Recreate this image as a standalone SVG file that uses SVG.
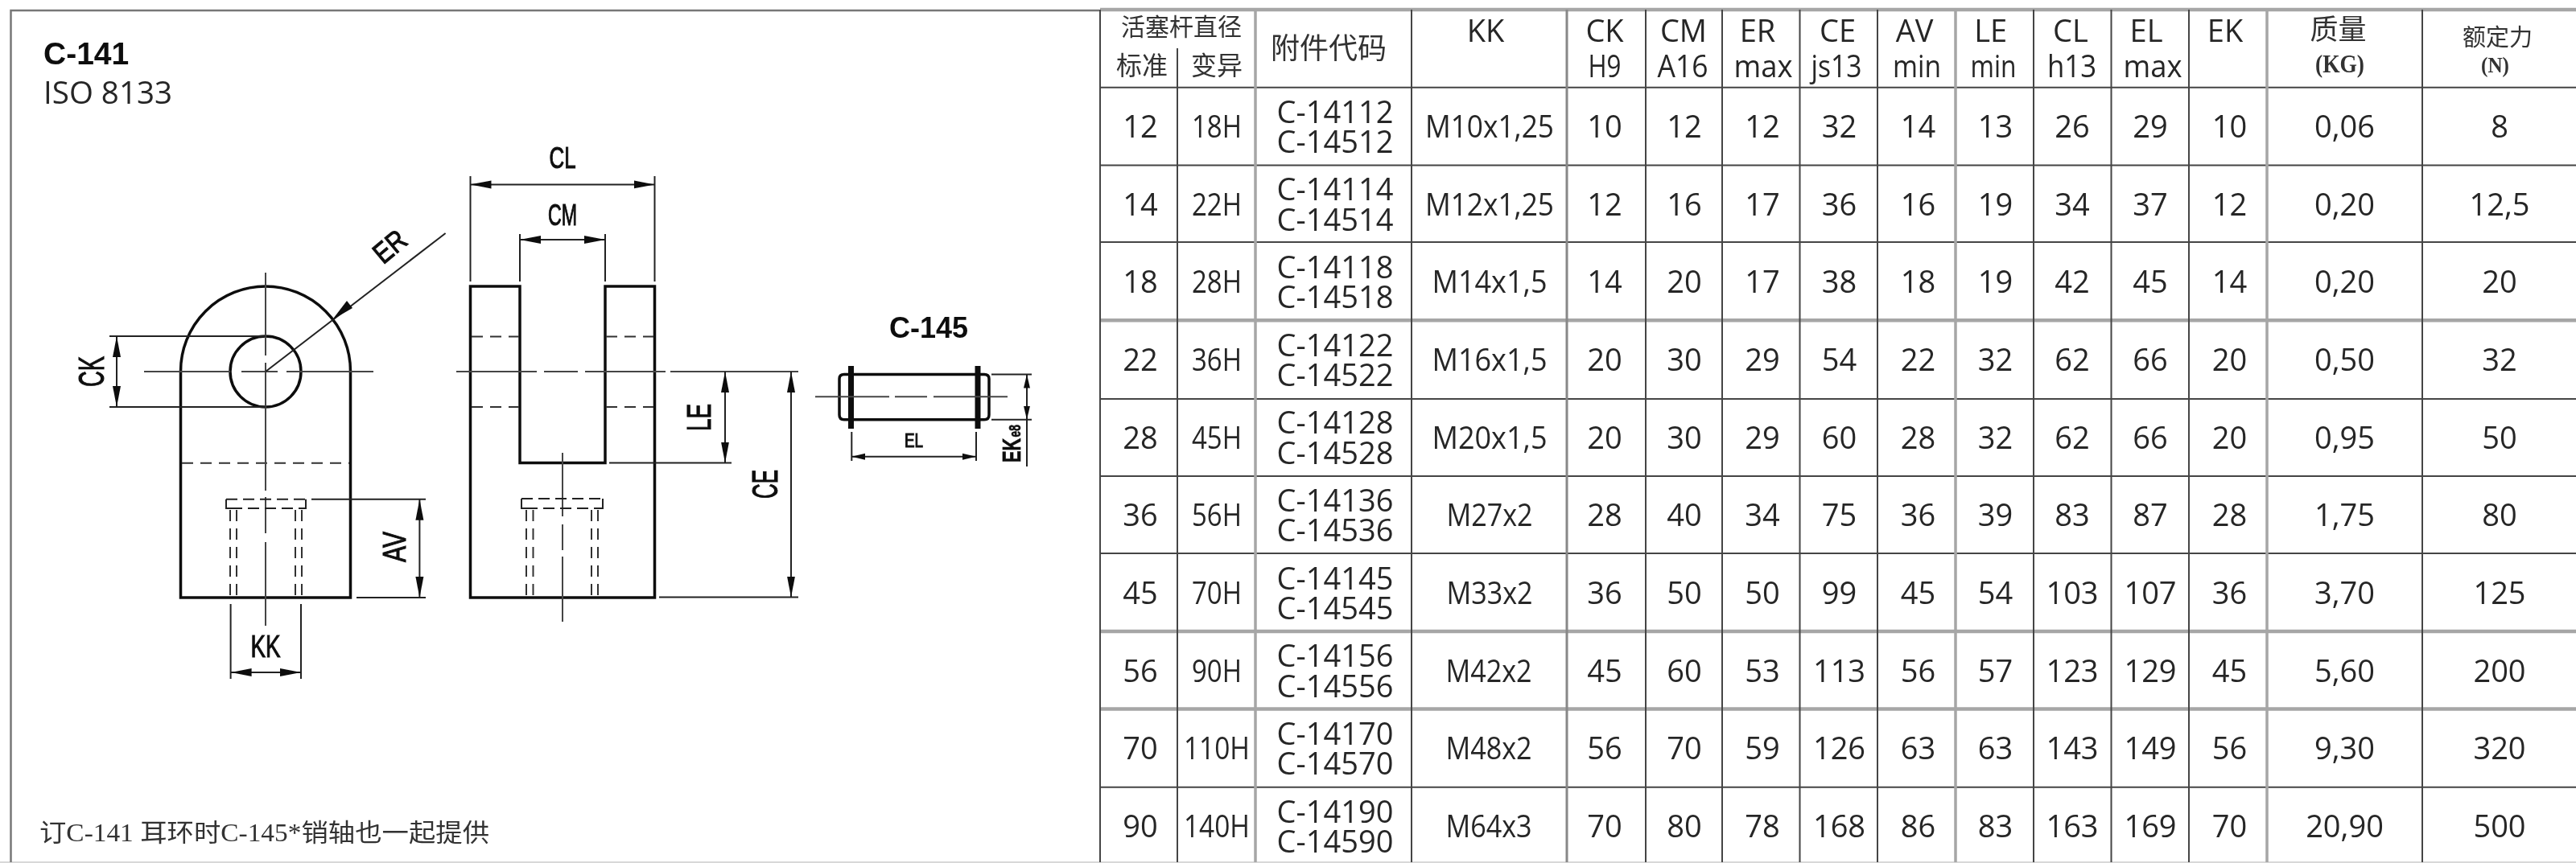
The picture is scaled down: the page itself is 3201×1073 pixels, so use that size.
<svg xmlns="http://www.w3.org/2000/svg" width="3201" height="1073" viewBox="0 0 3201 1073">
<style>
.t{font-family:"Open Sans","Liberation Sans",sans-serif;font-size:38px;fill:#262626;text-anchor:middle}
.cn{font-family:"Noto Sans CJK SC",sans-serif;fill:#333;text-anchor:middle}
.b{font-family:"Liberation Sans",sans-serif;font-weight:700;fill:#111}
.d{font-family:"Liberation Sans",sans-serif;fill:#111;text-anchor:middle;stroke:#111;stroke-width:1.1}
.tl{fill:none;stroke:#444;stroke-width:2}
.tg{fill:none;stroke:#a6a6a6;stroke-width:4.5}
.o{fill:none;stroke:#111;stroke-width:3.5}
.f{fill:none;stroke:#222;stroke-width:2}
.h{fill:none;stroke:#333;stroke-width:2;stroke-dasharray:14 9}
.c{fill:none;stroke:#444;stroke-width:2}
.dim{marker-start:url(#a);marker-end:url(#a)}
.dims{marker-start:url(#s);marker-end:url(#s)}
</style>
<defs>
<marker id="a" markerUnits="userSpaceOnUse" markerWidth="26" markerHeight="12" refX="26" refY="6" orient="auto-start-reverse"><path d="M0 1L26 6L0 11Z" fill="#111"/></marker>
<marker id="s" markerUnits="userSpaceOnUse" markerWidth="17" markerHeight="10" refX="17" refY="5" orient="auto-start-reverse"><path d="M0 1L17 5L0 9Z" fill="#111"/></marker>
<filter id="soft" filterUnits="userSpaceOnUse" x="0" y="0" width="3201" height="1073"><feGaussianBlur stdDeviation="0.7"/></filter>
</defs>
<rect width="3201" height="1073" fill="#fff"/>
<g filter="url(#soft)">
<g id="frame">
<path d="M0 1072H3201" fill="none" stroke="#d8d8d8" stroke-width="2"/>
<path d="M13.5 1072V13H1366" fill="none" stroke="#777" stroke-width="2.5"/>
<text class="b" x="54" y="80" font-size="39">C-141</text>
<text class="t" x="134" y="129" textLength="160" lengthAdjust="spacingAndGlyphs" style="font-size:39px">ISO 8133</text>
<text x="49" y="1046" font-family="'Liberation Serif','Noto Sans CJK SC',serif" font-size="31" fill="#333" textLength="559" lengthAdjust="spacingAndGlyphs">订C-141 耳环时C-145*销轴也一起提供</text>
</g>
<g id="view-front">
<path class="o" d="M224.5 743V461.5A105.5 105.5 0 0 1 435.5 461.5V743Z"/>
<circle class="o" cx="330" cy="462" r="44"/>
<path class="h" d="M226 575.7H434"/>
<path class="c" d="M179 462H286M300 462H345M356 462H464M330 339V442M330 451V610M330 618V663M330 674V778"/>
<path class="f" d="M281 620.7H380M287 632H375" style="stroke-dasharray:14 7"/>
<path class="f" d="M281 620.7V632H287M380 620.7V632H375"/>
<path class="h" d="M286 634V743M294 634V743M367 634V743M375 634V743"/>
</g>
<g id="view-side">
<path class="o" d="M584.5 743V356H646V575.5H752V356H813.5V743Z"/>
<path class="h" d="M586 418.4H645M586 506H645M753 418.4H812M753 506H812"/>
<path class="c" d="M567 462H667M676 462H718M727 462H827M833 462H992M699 563V642M699 652V684M699 692V773"/>
<path class="f" style="stroke-dasharray:14 7" d="M648 620H749M654 632H743"/>
<path class="f" d="M648 620V632H654M749 620V632H743"/>
<path class="h" d="M654 634V743M662.5 634V743M735 634V743M743 634V743"/>
</g>
<g id="view-pin">
<text class="b" x="1105" y="420" font-size="36">C-145</text>
<path class="o" d="M1057 465.5H1049Q1043 465.5 1043 471V516Q1043 521.7 1049 521.7H1223Q1229 521.7 1229 516V471Q1229 465.5 1223 465.5Z"/>
<path fill="none" stroke="#111" stroke-width="7" d="M1057.5 455V533M1215 455V533"/>
<path class="c" d="M1013 493.3H1105M1112 493.3H1152M1160 493.3H1252"/>
</g>
<g id="connectors">
<path class="f" d="M136 418H330M136 506H330"/>
<path class="f dim" d="M145 418V506"/>
<path class="f" d="M553.6 290L330 462"/>
<path d="M413 397.5L431 374 438 383Z" fill="#111"/>
<path class="f" d="M387 620.7H529M443 743H529"/>
<path class="f dim" d="M521.4 620.7V743"/>
<path class="f" d="M286.6 751V844M374 751V844"/>
<path class="f dim" d="M286.6 836H374"/>
<path class="f" d="M584.5 219V350M813.5 219V350M646 291V350M752 291V350"/>
<path class="f dim" d="M584.5 229.4H813.5"/>
<path class="f dim" d="M646 298H752"/>
<path class="f" d="M757 575.5H909M819 742.5H992"/>
<path class="f dim" d="M901 462V575.5"/>
<path class="f dim" d="M983 462V742.5"/>
<path class="f" d="M1232 465.5H1282M1232 521.7H1282M1058.3 537V573M1213 537V573M1276 521V580"/>
<path class="f dims" d="M1276 465.5V521.7"/>
<path class="f dims" d="M1058.3 567.7H1213"/>
</g>
<g id="dim-labels">
<text class="d" transform="translate(129 462) rotate(-90)" font-size="45" textLength="38" lengthAdjust="spacingAndGlyphs">CK</text>
<text class="d" transform="translate(484 306) rotate(-40)" y="13" font-size="36" textLength="42" lengthAdjust="spacingAndGlyphs">ER</text>
<text class="d" transform="translate(504 680) rotate(-90)" font-size="40" textLength="38" lengthAdjust="spacingAndGlyphs">AV</text>
<text class="d" x="330" y="817" font-size="38" textLength="37" lengthAdjust="spacingAndGlyphs">KK</text>
<text class="d" x="699" y="209" font-size="36" textLength="33" lengthAdjust="spacingAndGlyphs">CL</text>
<text class="d" x="699" y="279.6" font-size="37" textLength="36" lengthAdjust="spacingAndGlyphs">CM</text>
<text class="d" transform="translate(883 519) rotate(-90)" font-size="42" textLength="34" lengthAdjust="spacingAndGlyphs">LE</text>
<text class="d" transform="translate(966 602) rotate(-90)" font-size="44" textLength="36" lengthAdjust="spacingAndGlyphs">CE</text>
<text class="d" x="1135.5" y="555.7" font-size="23" textLength="23" lengthAdjust="spacingAndGlyphs">EL</text>
<text class="b" transform="translate(1268 575) rotate(-90) scale(.68 1)" font-size="32" stroke="#111" stroke-width=".7">EK<tspan font-size="20" dx="2">e8</tspan></text>
</g>
<g id="table-grid">
<path class="tl" d="M1367 108.7H3201M1367 205.5H3201M1367 301H3201M1367 496H3201M1367 592H3201M1367 688H3201M1367 978.7H3201"/>
<path class="tg" d="M1367 12H3201M1367 398.3H3201M1367 785H3201M1367 881.5H3201"/>
<path class="tl" d="M1367 12V1072M1463 60V1072M1754 12V1072M2045 12V1072M2140 12V1072M2236.5 12V1072M2333 12V1072M2527 12V1072M2623.5 12V1072M2720 12V1072M3010 12V1072"/>
<path class="tg" style="stroke-width:3.5" d="M1560 12V1072M2430 12V1072M2817 12V1072"/>
<path fill="none" stroke="#888" stroke-width="3" d="M1947 12V1072"/>
</g>
<g id="table-header">
<text class="cn" x="1468" y="44" font-size="30">活塞杆直径</text>
<text class="cn" x="1419" y="93" font-size="32">标准</text>
<text class="cn" x="1512" y="93" font-size="32">变异</text>
<text class="cn" x="1651" y="73" font-size="36">附件代码</text>
<text class="t" x="1846" y="51.7">KK</text>
<text class="t" x="1994" y="51.7">CK</text><text class="t" x="1994" y="96" textLength="41" lengthAdjust="spacingAndGlyphs">H9</text>
<text class="t" x="2092" y="51.7">CM</text><text class="t" x="2091" y="96" textLength="63" lengthAdjust="spacingAndGlyphs">A16</text>
<text class="t" x="2184" y="51.7">ER</text><text class="t" x="2191" y="96" textLength="73" lengthAdjust="spacingAndGlyphs">max</text>
<text class="t" x="2283.5" y="51.7">CE</text><text class="t" x="2282" y="96" textLength="63" lengthAdjust="spacingAndGlyphs">js13</text>
<text class="t" x="2379" y="51.7">AV</text><text class="t" x="2382" y="96" textLength="60" lengthAdjust="spacingAndGlyphs">min</text>
<text class="t" x="2473.7" y="51.7">LE</text><text class="t" x="2477" y="96" textLength="57" lengthAdjust="spacingAndGlyphs">min</text>
<text class="t" x="2573" y="51.7">CL</text><text class="t" x="2574.5" y="96" textLength="61" lengthAdjust="spacingAndGlyphs">h13</text>
<text class="t" x="2667" y="51.7">EL</text><text class="t" x="2675" y="96" textLength="73" lengthAdjust="spacingAndGlyphs">max</text>
<text class="t" x="2765" y="51.7">EK</text>
<text class="cn" x="2905.5" y="49" font-size="35">质量</text>
<text x="2907.5" y="90" font-family="'Liberation Serif',serif" font-weight="700" font-size="32" fill="#333" text-anchor="middle" textLength="61" lengthAdjust="spacingAndGlyphs">(KG)</text>
<text class="cn" x="3103.5" y="57" font-size="29">额定力</text>
<text x="3100.5" y="90" font-family="'Liberation Serif',serif" font-weight="700" font-size="28" fill="#333" text-anchor="middle" textLength="35" lengthAdjust="spacingAndGlyphs">(N)</text>
</g>
<g id="row-12" transform="translate(0 157)"><text class="t" x="1417" y="14">12</text><text class="t" x="1512" y="14" textLength="62" lengthAdjust="spacingAndGlyphs">18H</text><text class="t"><tspan x="1659" y="-4.3">C-14112</tspan><tspan x="1659" y="33">C-14512</tspan></text><text class="t" x="1851" y="14" textLength="160" lengthAdjust="spacingAndGlyphs">M10x1,25</text><text class="t" x="1994" y="14">10</text><text class="t" x="2093" y="14">12</text><text class="t" x="2190" y="14">12</text><text class="t" x="2285.5" y="14">32</text><text class="t" x="2383.5" y="14">14</text><text class="t" x="2479.6" y="14">13</text><text class="t" x="2575" y="14">26</text><text class="t" x="2672" y="14">29</text><text class="t" x="2770.6" y="14">10</text><text class="t" x="2913.5" y="14">0,06</text><text class="t" x="3106" y="14">8</text></g>
<g id="row-14" transform="translate(0 253.7)"><text class="t" x="1417" y="14">14</text><text class="t" x="1512" y="14" textLength="62" lengthAdjust="spacingAndGlyphs">22H</text><text class="t"><tspan x="1659" y="-4.3">C-14114</tspan><tspan x="1659" y="33">C-14514</tspan></text><text class="t" x="1851" y="14" textLength="160" lengthAdjust="spacingAndGlyphs">M12x1,25</text><text class="t" x="1994" y="14">12</text><text class="t" x="2093" y="14">16</text><text class="t" x="2190" y="14">17</text><text class="t" x="2285.5" y="14">36</text><text class="t" x="2383.5" y="14">16</text><text class="t" x="2479.6" y="14">19</text><text class="t" x="2575" y="14">34</text><text class="t" x="2672" y="14">37</text><text class="t" x="2770.6" y="14">12</text><text class="t" x="2913.5" y="14">0,20</text><text class="t" x="3106" y="14">12,5</text></g>
<g id="row-18" transform="translate(0 350.4)"><text class="t" x="1417" y="14">18</text><text class="t" x="1512" y="14" textLength="62" lengthAdjust="spacingAndGlyphs">28H</text><text class="t"><tspan x="1659" y="-4.3">C-14118</tspan><tspan x="1659" y="33">C-14518</tspan></text><text class="t" x="1851" y="14" textLength="143" lengthAdjust="spacingAndGlyphs">M14x1,5</text><text class="t" x="1994" y="14">14</text><text class="t" x="2093" y="14">20</text><text class="t" x="2190" y="14">17</text><text class="t" x="2285.5" y="14">38</text><text class="t" x="2383.5" y="14">18</text><text class="t" x="2479.6" y="14">19</text><text class="t" x="2575" y="14">42</text><text class="t" x="2672" y="14">45</text><text class="t" x="2770.6" y="14">14</text><text class="t" x="2913.5" y="14">0,20</text><text class="t" x="3106" y="14">20</text></g>
<g id="row-22" transform="translate(0 447)"><text class="t" x="1417" y="14">22</text><text class="t" x="1512" y="14" textLength="62" lengthAdjust="spacingAndGlyphs">36H</text><text class="t"><tspan x="1659" y="-4.3">C-14122</tspan><tspan x="1659" y="33">C-14522</tspan></text><text class="t" x="1851" y="14" textLength="143" lengthAdjust="spacingAndGlyphs">M16x1,5</text><text class="t" x="1994" y="14">20</text><text class="t" x="2093" y="14">30</text><text class="t" x="2190" y="14">29</text><text class="t" x="2285.5" y="14">54</text><text class="t" x="2383.5" y="14">22</text><text class="t" x="2479.6" y="14">32</text><text class="t" x="2575" y="14">62</text><text class="t" x="2672" y="14">66</text><text class="t" x="2770.6" y="14">20</text><text class="t" x="2913.5" y="14">0,50</text><text class="t" x="3106" y="14">32</text></g>
<g id="row-28" transform="translate(0 543.7)"><text class="t" x="1417" y="14">28</text><text class="t" x="1512" y="14" textLength="62" lengthAdjust="spacingAndGlyphs">45H</text><text class="t"><tspan x="1659" y="-4.3">C-14128</tspan><tspan x="1659" y="33">C-14528</tspan></text><text class="t" x="1851" y="14" textLength="143" lengthAdjust="spacingAndGlyphs">M20x1,5</text><text class="t" x="1994" y="14">20</text><text class="t" x="2093" y="14">30</text><text class="t" x="2190" y="14">29</text><text class="t" x="2285.5" y="14">60</text><text class="t" x="2383.5" y="14">28</text><text class="t" x="2479.6" y="14">32</text><text class="t" x="2575" y="14">62</text><text class="t" x="2672" y="14">66</text><text class="t" x="2770.6" y="14">20</text><text class="t" x="2913.5" y="14">0,95</text><text class="t" x="3106" y="14">50</text></g>
<g id="row-36" transform="translate(0 640.4)"><text class="t" x="1417" y="14">36</text><text class="t" x="1512" y="14" textLength="62" lengthAdjust="spacingAndGlyphs">56H</text><text class="t"><tspan x="1659" y="-4.3">C-14136</tspan><tspan x="1659" y="33">C-14536</tspan></text><text class="t" x="1851" y="14" textLength="107" lengthAdjust="spacingAndGlyphs">M27x2</text><text class="t" x="1994" y="14">28</text><text class="t" x="2093" y="14">40</text><text class="t" x="2190" y="14">34</text><text class="t" x="2285.5" y="14">75</text><text class="t" x="2383.5" y="14">36</text><text class="t" x="2479.6" y="14">39</text><text class="t" x="2575" y="14">83</text><text class="t" x="2672" y="14">87</text><text class="t" x="2770.6" y="14">28</text><text class="t" x="2913.5" y="14">1,75</text><text class="t" x="3106" y="14">80</text></g>
<g id="row-45" transform="translate(0 737)"><text class="t" x="1417" y="14">45</text><text class="t" x="1512" y="14" textLength="62" lengthAdjust="spacingAndGlyphs">70H</text><text class="t"><tspan x="1659" y="-4.3">C-14145</tspan><tspan x="1659" y="33">C-14545</tspan></text><text class="t" x="1851" y="14" textLength="107" lengthAdjust="spacingAndGlyphs">M33x2</text><text class="t" x="1994" y="14">36</text><text class="t" x="2093" y="14">50</text><text class="t" x="2190" y="14">50</text><text class="t" x="2285.5" y="14">99</text><text class="t" x="2383.5" y="14">45</text><text class="t" x="2479.6" y="14">54</text><text class="t" x="2575" y="14">103</text><text class="t" x="2672" y="14">107</text><text class="t" x="2770.6" y="14">36</text><text class="t" x="2913.5" y="14">3,70</text><text class="t" x="3106" y="14">125</text></g>
<g id="row-56" transform="translate(0 833.7)"><text class="t" x="1417" y="14">56</text><text class="t" x="1512" y="14" textLength="62" lengthAdjust="spacingAndGlyphs">90H</text><text class="t"><tspan x="1659" y="-4.3">C-14156</tspan><tspan x="1659" y="33">C-14556</tspan></text><text class="t" x="1850" y="14" textLength="107" lengthAdjust="spacingAndGlyphs">M42x2</text><text class="t" x="1994" y="14">45</text><text class="t" x="2093" y="14">60</text><text class="t" x="2190" y="14">53</text><text class="t" x="2285.5" y="14">113</text><text class="t" x="2383.5" y="14">56</text><text class="t" x="2479.6" y="14">57</text><text class="t" x="2575" y="14">123</text><text class="t" x="2672" y="14">129</text><text class="t" x="2770.6" y="14">45</text><text class="t" x="2913.5" y="14">5,60</text><text class="t" x="3106" y="14">200</text></g>
<g id="row-70" transform="translate(0 930.4)"><text class="t" x="1417" y="14">70</text><text class="t" x="1512" y="14" textLength="82" lengthAdjust="spacingAndGlyphs">110H</text><text class="t"><tspan x="1659" y="-4.3">C-14170</tspan><tspan x="1659" y="33">C-14570</tspan></text><text class="t" x="1850" y="14" textLength="107" lengthAdjust="spacingAndGlyphs">M48x2</text><text class="t" x="1994" y="14">56</text><text class="t" x="2093" y="14">70</text><text class="t" x="2190" y="14">59</text><text class="t" x="2285.5" y="14">126</text><text class="t" x="2383.5" y="14">63</text><text class="t" x="2479.6" y="14">63</text><text class="t" x="2575" y="14">143</text><text class="t" x="2672" y="14">149</text><text class="t" x="2770.6" y="14">56</text><text class="t" x="2913.5" y="14">9,30</text><text class="t" x="3106" y="14">320</text></g>
<g id="row-90" transform="translate(0 1027)"><text class="t" x="1417" y="14">90</text><text class="t" x="1512" y="14" textLength="82" lengthAdjust="spacingAndGlyphs">140H</text><text class="t"><tspan x="1659" y="-4.3">C-14190</tspan><tspan x="1659" y="33">C-14590</tspan></text><text class="t" x="1850" y="14" textLength="107" lengthAdjust="spacingAndGlyphs">M64x3</text><text class="t" x="1994" y="14">70</text><text class="t" x="2093" y="14">80</text><text class="t" x="2190" y="14">78</text><text class="t" x="2285.5" y="14">168</text><text class="t" x="2383.5" y="14">86</text><text class="t" x="2479.6" y="14">83</text><text class="t" x="2575" y="14">163</text><text class="t" x="2672" y="14">169</text><text class="t" x="2770.6" y="14">70</text><text class="t" x="2913.5" y="14">20,90</text><text class="t" x="3106" y="14">500</text></g>
</g>
</svg>
